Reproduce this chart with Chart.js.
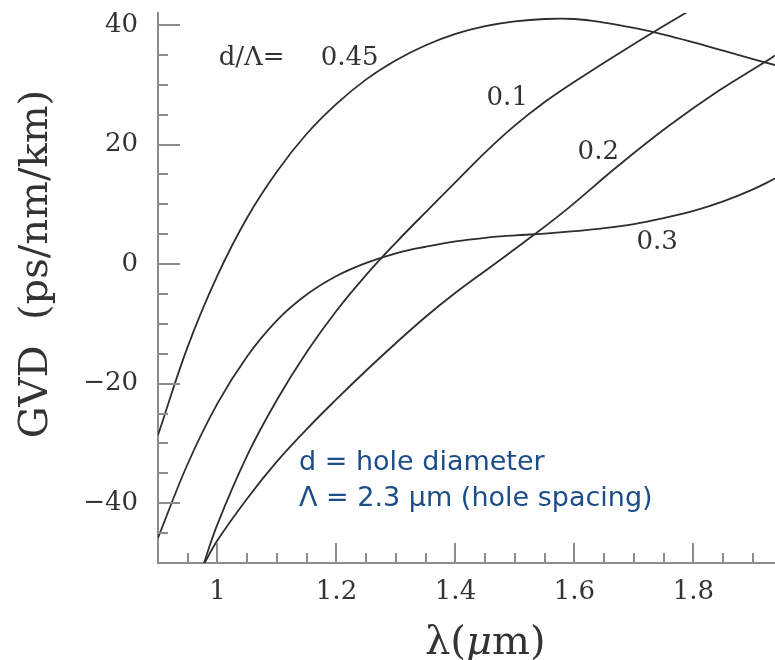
<!DOCTYPE html>
<html>
<head>
<meta charset="utf-8">
<title>GVD vs wavelength</title>
<script src="https://cdn.jsdelivr.net/npm/chart.js@4.4.1/dist/chart.umd.min.js"></script>
<style>
  html, body { margin: 0; padding: 0; background: #fff; }
  #wrap { width: 775px; height: 660px; }
</style>
</head>
<body>
<div id="wrap"><canvas id="gvd" width="775" height="660"></canvas></div>
<script>
// wavelength (µm) / GVD (ps/nm/km) for each hole-diameter ratio d/Λ
const lam045 = [0.90, 0.95, 1.00, 1.05, 1.10, 1.15, 1.20, 1.25, 1.30, 1.35, 1.40, 1.45, 1.50, 1.55, 1.60, 1.65, 1.70, 1.75, 1.80, 1.85, 1.90, 1.937];
const gvd045 = [-28.6, -13.8, -1.9, 7.8, 15.5, 21.8, 26.8, 30.9, 34.1, 36.6, 38.5, 39.8, 40.6, 41.0, 41.0, 40.4, 39.5, 38.4, 37.1, 35.7, 34.3, 33.3];

const lam01 = [0.975, 1.00, 1.05, 1.10, 1.15, 1.20, 1.25, 1.30, 1.35, 1.40, 1.45, 1.50, 1.55, 1.60, 1.70, 1.80];
const gvd01 = [-50.7, -43.5, -32.0, -22.7, -14.7, -7.8, -1.8, 3.6, 8.7, 13.7, 18.7, 23.2, 27.1, 30.5, 36.8, 42.8];

const lam02 = [0.975, 1.00, 1.05, 1.10, 1.15, 1.20, 1.25, 1.30, 1.35, 1.40, 1.46, 1.528, 1.59, 1.673, 1.757, 1.841, 1.92, 1.937];
const gvd02 = [-50.6, -46.2, -39.2, -33.0, -27.6, -22.6, -17.8, -13.2, -8.8, -4.8, -0.4, 4.6, 9.4, 16.4, 23.0, 28.9, 33.8, 34.9];

const lam03 = [0.90, 0.95, 1.00, 1.05, 1.10, 1.15, 1.20, 1.25, 1.30, 1.35, 1.40, 1.45, 1.50, 1.55, 1.60, 1.65, 1.70, 1.75, 1.80, 1.85, 1.90, 1.937];
const gvd03 = [-45.8, -33.4, -23.3, -15.4, -9.4, -5.1, -2.0, 0.2, 1.8, 2.9, 3.8, 4.4, 4.8, 5.1, 5.5, 6.0, 6.7, 7.7, 8.9, 10.5, 12.5, 14.3];

const xTickValues = [1, 1.2, 1.4, 1.6, 1.8];
const yTickValues = [-40, -20, 0, 20, 40];

// curve labels, placed in data units
const curveLabels = [
  { text: 'd/Λ=', x: 1.002, y: 34.5, align: 'left' },
  { text: '0.45', x: 1.222, y: 34.5, align: 'center' },
  { text: '0.1', x: 1.487, y: 27.7, align: 'center' },
  { text: '0.2', x: 1.640, y: 18.7, align: 'center' },
  { text: '0.3', x: 1.739, y: 3.7, align: 'center' },
];
const noteLines = ['d = hole diameter', 'Λ = 2.3 µm (hole spacing)'];

const axisColor = '#8c8c8c';
const inkColor = '#333333';
const serif = "'DejaVu Serif', 'Liberation Serif', serif";

const toPoints = (xs, ys) => xs.map((x, i) => ({ x, y: ys[i] }));
const curve = (xs, ys) => ({
  data: toPoints(xs, ys),
  borderColor: '#2e2e2e',
  borderWidth: 1.8,
  pointRadius: 0,
  fill: false,
  tension: 0.4,
});

const minus = v => (v < 0 ? '\u2212' + Math.abs(v) : String(v));

// inward tick marks (major + minor), axis titles, curve labels and the note
const frameMarks = {
  id: 'frameMarks',
  afterDraw(chart) {
    const { ctx, chartArea: area, scales: { x, y } } = chart;
    ctx.save();
    ctx.strokeStyle = axisColor;
    ctx.lineWidth = 2;
    ctx.beginPath();
    for (let i = -9; i <= 8; i++) {
      const v = i * 5;
      const py = Math.round(y.getPixelForValue(v));
      const len = v % 20 === 0 ? 22 : 10;
      ctx.moveTo(area.left, py);
      ctx.lineTo(area.left + len, py);
    }
    for (let i = 19; i <= 38; i++) {
      const v = i * 0.05;
      if (v > x.max) break;
      const px = Math.round(x.getPixelForValue(v));
      const len = i % 4 === 0 ? 20 : 10;
      ctx.moveTo(px, area.bottom);
      ctx.lineTo(px, area.bottom - len);
    }
    ctx.stroke();

    // curve labels
    ctx.fillStyle = inkColor;
    ctx.font = '26px ' + serif;
    ctx.textBaseline = 'middle';
    curveLabels.forEach(l => {
      ctx.textAlign = l.align;
      ctx.fillText(l.text, x.getPixelForValue(l.x), y.getPixelForValue(l.y));
    });

    // note in blue
    ctx.fillStyle = '#1c4d88';
    ctx.font = "27px 'DejaVu Sans', sans-serif";
    ctx.textAlign = 'left';
    ctx.textBaseline = 'alphabetic';
    noteLines.forEach((t, i) => {
      ctx.fillText(t, x.getPixelForValue(1.137), y.getPixelForValue(-34.5 - 6 * i));
    });

    // y title
    ctx.fillStyle = inkColor;
    ctx.font = '40px ' + serif;
    ctx.textAlign = 'center';
    ctx.textBaseline = 'middle';
    ctx.save();
    ctx.translate(37, y.getPixelForValue(0));
    ctx.rotate(-Math.PI / 2);
    ctx.fillText('GVD  (ps/nm/km)', 0, 0);
    ctx.restore();

    // x title: λ(μm) with italic μ
    const parts = [
      { t: 'λ(', f: '40px ' + serif },
      { t: 'μ', f: 'italic 40px ' + serif },
      { t: 'm)', f: '40px ' + serif },
    ];
    let w = 0;
    parts.forEach(p => { ctx.font = p.f; p.w = ctx.measureText(p.t).width; w += p.w; });
    let cx = x.getPixelForValue(1.45) - w / 2;
    ctx.textAlign = 'left';
    ctx.textBaseline = 'alphabetic';
    parts.forEach(p => { ctx.font = p.f; ctx.fillText(p.t, cx, 654); cx += p.w; });
    ctx.restore();
  },
};

new Chart(document.getElementById('gvd'), {
  type: 'line',
  data: {
    datasets: [
      curve(lam045, gvd045),
      curve(lam01, gvd01),
      curve(lam02, gvd02),
      curve(lam03, gvd03),
    ],
  },
  options: {
    responsive: false,
    animation: false,
    devicePixelRatio: 1,
    layout: { padding: { top: 13, right: 0, bottom: 0, left: 0 } },
    plugins: { legend: { display: false }, tooltip: { enabled: false } },
    scales: {
      x: {
        type: 'linear',
        min: 0.9,
        max: 1.937,
        afterFit: s => { s.height = 97; s.paddingLeft = 0; s.paddingRight = 0; },
        afterBuildTicks: s => { s.ticks = xTickValues.map(v => ({ value: v })); },
        grid: { display: false, drawTicks: false },
        border: { display: true, color: axisColor, width: 2 },
        ticks: {
          font: { family: serif, size: 26 },
          color: inkColor,
          padding: 14,
          maxRotation: 0,
          autoSkip: false,
          callback: v => String(+v.toFixed(1)),
        },
      },
      y: {
        type: 'linear',
        min: -50,
        max: 42,
        afterFit: s => { s.width = 158; s.paddingTop = 0; s.paddingBottom = 0; },
        afterBuildTicks: s => { s.ticks = yTickValues.map(v => ({ value: v })); },
        grid: { display: false, drawTicks: false },
        border: { display: true, color: axisColor, width: 2 },
        ticks: {
          font: { family: serif, size: 26 },
          color: inkColor,
          padding: 20,
          autoSkip: false,
          callback: v => minus(v),
        },
      },
    },
  },
  plugins: [frameMarks],
});
</script>
</body>
</html>
